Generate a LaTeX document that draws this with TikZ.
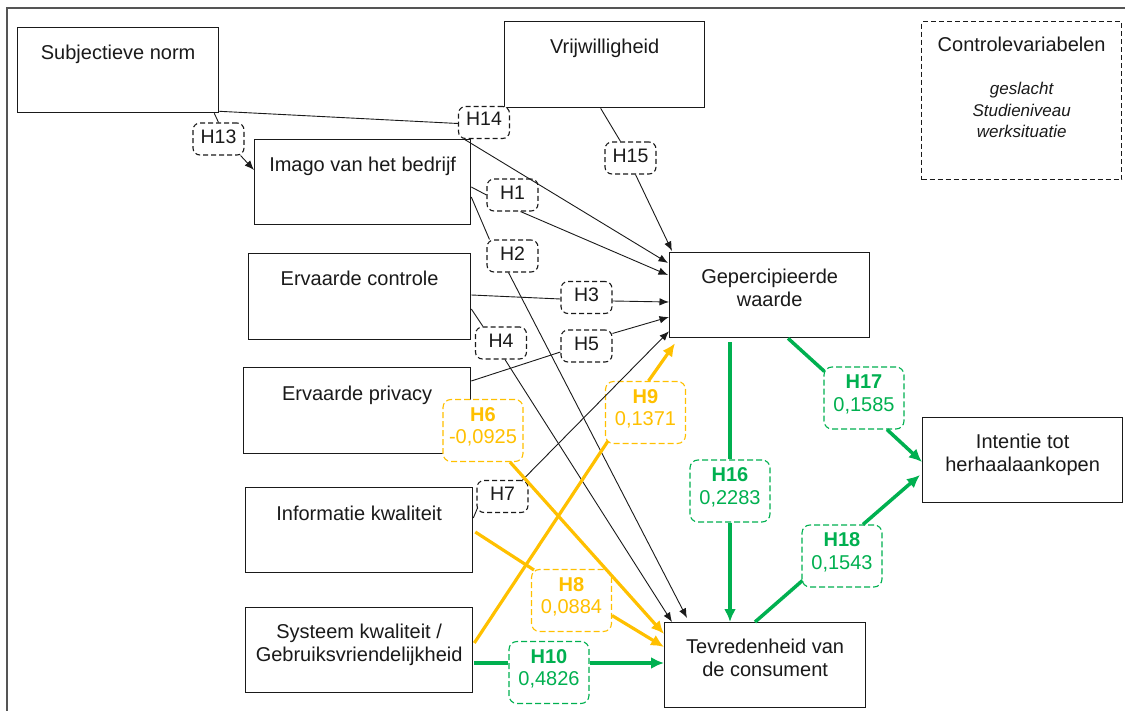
\documentclass[tikz,border=0pt]{standalone}
\usepackage{fontspec}
\setmainfont{Liberation Sans}
\usetikzlibrary{calc,arrows.meta}
\definecolor{hyel}{HTML}{FFC000}
\definecolor{hgrn}{HTML}{00B050}
\definecolor{ink}{HTML}{1A1A1A}
\definecolor{framegray}{HTML}{555555}
\begin{document}
\begin{tikzpicture}[x=1pt,y=-1pt,
  construct/.style={draw=ink, line width=1.3pt, fill=white, rectangle, inner sep=0pt, anchor=north west},
  ctext/.style={inner sep=0pt, text=ink, font=\fontsize{20}{23}\selectfont, align=center},
  hyp/.style={draw=ink, line width=1.1pt, dash pattern=on 5pt off 3pt, rounded corners=7pt, fill=white,
              minimum width=51pt, minimum height=32pt, inner sep=0pt},
  hyptext/.style={inner sep=0pt, text=ink, font=\fontsize{19.5}{22}\selectfont},
  hypc/.style={line width=1.1pt, dash pattern=on 6pt off 3pt, rounded corners=8pt, fill=white,
               minimum width=80pt, minimum height=62pt, inner sep=0pt},
  hy/.style={hypc, draw=hyel},
  hg/.style={hypc, draw=hgrn},
  hctext/.style={inner sep=0pt, align=center, font=\fontsize{20}{22.5}\selectfont},
  hyt/.style={hctext, text=hyel},
  hgt/.style={hctext, text=hgrn},
  lnk/.style={draw=ink, line width=0.9pt},
  lnka/.style={lnk, -{Latex[length=9.5pt,width=7.5pt]}},
  yl/.style={draw=hyel, line width=3.2pt},
  yla/.style={yl, -{Latex[length=13pt,width=12pt]}},
  gl/.style={draw=hgrn, line width=3.5pt},
  gla/.style={gl, -{Latex[length=13pt,width=12pt]}}
]
\useasboundingbox (0,0) rectangle (1125,711);

% outer frame (top and left edges)
\draw[framegray, line width=1.6pt] (7,711) -- (7,8) -- (1125,8);

% constructs
\node[construct, minimum width=201pt, minimum height=85pt] (sn) at (17,27) {};
\node[ctext, anchor=base] (snt) at ($(sn.north)+(0,33)$) {Subjectieve norm};

\node[construct, minimum width=200pt, minimum height=86pt] (vw) at (504,21) {};
\node[ctext, anchor=base] (vwt) at ($(vw.north)+(0,33)$) {Vrijwilligheid};

\node[construct, minimum width=216pt, minimum height=85pt] (im) at (254,139) {};
\node[ctext, anchor=base] (imt) at ($(im.north)+(0,33)$) {Imago van het bedrijf};

\node[construct, minimum width=222pt, minimum height=86pt] (ec) at (248,253) {};
\node[ctext, anchor=base] (ect) at ($(ec.north)+(0,33)$) {Ervaarde controle};

\node[construct, minimum width=227pt, minimum height=86pt] (ep) at (243,367) {};
\node[ctext, anchor=base] (ept) at ($(ep.north)+(0,33)$) {Ervaarde privacy};

\node[construct, minimum width=227pt, minimum height=85pt] (ik) at (245,487) {};
\node[ctext, anchor=base] (ikt) at ($(ik.north)+(0,33)$) {Informatie kwaliteit};

\node[construct, minimum width=227pt, minimum height=85pt] (sk) at (245,607) {};
\node[ctext, anchor=north] (skt) at ($(sk.north)+(0,16.6)$) {Systeem kwaliteit /\\Gebruiksvriendelijkheid};

\node[construct, minimum width=200pt, minimum height=85pt] (gw) at (669,252) {};
\node[ctext, anchor=north] (gwt) at ($(gw.north)+(0,16.6)$) {Gepercipieerde\\waarde};

\node[construct, minimum width=200pt, minimum height=85pt] (it) at (922,417) {};
\node[ctext, anchor=north] (itt) at ($(it.north)+(0,16.6)$) {Intentie tot\\herhaalaankopen};

\node[construct, minimum width=201pt, minimum height=85pt] (tv) at (664,622) {};
\node[ctext, anchor=north] (tvt) at ($(tv.north)+(0,16.6)$) {Tevredenheid van\\de consument};

% control variables
\node[construct, dash pattern=on 5pt off 3pt, minimum width=200pt, minimum height=158pt] (cv) at (921,21) {};
\node[ctext, anchor=base] (cvt) at ($(cv.north)+(0,31)$) {Controlevariabelen};
\node[inner sep=0pt, anchor=north, align=center, text=ink, font=\fontsize{17}{21.5}\selectfont\itshape]
  (cvl) at ($(cv.north)+(0,61)$) {geslacht\\Studieniveau\\werksituatie};

% hypothesis labels (box, then text set slightly above centre)
\node[hyp] (h13) at (218.5,139) {};   \node[hyptext] (h13t) at ($(h13.center)+(0,-2.5)$) {H13};
\node[hyp] (h14) at (484,122.5) {};   \node[hyptext] (h14t) at ($(h14.center)+(0,-3.5)$) {H14};
\node[hyp] (h15) at (630.5,158) {};   \node[hyptext] (h15t) at ($(h15.center)+(0,-2.5)$) {H15};
\node[hyp] (h1) at (512.5,195) {};    \node[hyptext] (h1t) at ($(h1.center)+(0,-2.5)$) {H1};
\node[hyp] (h2) at (512.5,256) {};    \node[hyptext] (h2t) at ($(h2.center)+(0,-2.5)$) {H2};
\node[hyp] (h3) at (586.5,297.5) {};  \node[hyptext] (h3t) at ($(h3.center)+(0,-2.5)$) {H3};
\node[hyp] (h4) at (501,343) {};      \node[hyptext] (h4t) at ($(h4.center)+(0,-2.5)$) {H4};
\node[hyp] (h5) at (586.5,346) {};    \node[hyptext] (h5t) at ($(h5.center)+(0,-2.5)$) {H5};
\node[hyp] (h7) at (502.5,496.5) {};  \node[hyptext] (h7t) at ($(h7.center)+(0,-2.5)$) {H7};

\node[hy] (h6) at (483,430.5) {};   \node[hyt] (h6t) at ($(h6.center)+(0,-3.5)$) {\textbf{H6}\\-0,0925};
\node[hy] (h9) at (645.5,412.5) {}; \node[hyt] (h9t) at ($(h9.center)+(0,-3.5)$) {\textbf{H9}\\0,1371};
\node[hy] (h8) at (571.5,600.5) {}; \node[hyt] (h8t) at ($(h8.center)+(0,-3.5)$) {\textbf{H8}\\0,0884};
\node[hg] (h10) at (549,672.5) {};  \node[hgt] (h10t) at ($(h10.center)+(0,-3.5)$) {\textbf{H10}\\0,4826};
\node[hg] (h16) at (730,491) {};    \node[hgt] (h16t) at ($(h16.center)+(0,-3.5)$) {\textbf{H16}\\0,2283};
\node[hg] (h17) at (864,398) {};    \node[hgt] (h17t) at ($(h17.center)+(0,-3.5)$) {\textbf{H17}\\0,1585};
\node[hg] (h18) at (842,556) {};    \node[hgt] (h18t) at ($(h18.center)+(0,-3.5)$) {\textbf{H18}\\0,1543};

% thin paths
\draw[lnk] ($(sn.south east)+(-5,0)$) -- (h13.north);
\draw[lnka] ($(h13.south east)+(-4,0)$) -- ($(im.north west)+(0,31)$);
\draw[lnk] ($(sn.south east)+(0,-2)$) -- ($(h14.west)+(0,1)$);
\draw[lnka] ($(h14.south west)+(6,0)$) -- ($(gw.north west)+(-1,11)$);
\draw[lnk] ($(vw.south)+(-4,0)$) -- ($(h15.north)+(-10,0)$);
\draw[lnka] ($(h15.south)+(5,0)$) -- ($(gw.north west)+(3,-1)$);
\draw[lnk] ($(im.north east)+(0,48)$) -- (h1.west);
\draw[lnka] ($(h1.south)+(8,0)$) -- ($(gw.north west)+(-1,23)$);
\draw[lnk] ($(im.north east)+(0,58)$) -- ($(h2.north west)+(3,0)$);
\draw[lnka] ($(h2.south)+(-4,0)$) -- ($(tv.north west)+(23,-4)$);
\draw[lnk] ($(ec.north east)+(0,42)$) -- ($(h3.west)+(0,1.5)$);
\draw[lnka] ($(h3.east)+(0,3.5)$) -- ($(gw.north west)+(0,50)$);
\draw[lnk] ($(ec.north east)+(0,56)$) -- ($(h4.north west)+(8,0)$);
\draw[lnka] ($(h4.south)+(4,0)$) -- ($(tv.north west)+(8,0)$);
\draw[lnk] ($(ep.north east)+(0,14)$) -- ($(h5.west)+(0,6)$);
\draw[lnka] ($(h5.north east)+(0,4)$) -- ($(gw.north west)+(0,65)$);
\draw[lnk] ($(ik.north east)+(0,31)$) -- ($(h7.south west)+(1,-5)$);
\draw[lnka] ($(h7.north east)+(-6,0)$) -- ($(gw.south west)+(0,-7)$);

% yellow paths
\draw[yla] ($(h6.south)+(27,0)$) -- ($(tv.north west)+(0,12)$);
\draw[yl] ($(ik.north east)+(2,45)$) -- ($(h8.north west)+(3,1)$);
\draw[yla] ($(h8.east)+(0,15)$) -- ($(tv.north west)+(0,25)$);
\draw[yl] ($(sk.north east)+(1,36)$) -- ($(h9.south west)+(3,-3)$);
\draw[yla] ($(h9.north)+(3,0)$) -- ($(gw.south west)+(6,5)$);

% green paths
\draw[gl] ($(sk.north east)+(1,56)$) -- ($(h10.west)+(0,-9.5)$);
\draw[gla] ($(h10.east)+(0,-9.5)$) -- ($(tv.north west)+(0,41)$);
\draw[gl] ($(gw.south west)+(61,4)$) -- (h16.north);
\draw[gla] (h16.south) -- ($(tv.north west)+(66,0)$);
\draw[gl] ($(gw.south west)+(119,0)$) -- ($(h17.north west)+(1,5)$);
\draw[gla] ($(h17.south)+(23,0)$) -- ($(it.north west)+(0,45)$);
\draw[gl] ($(tv.north west)+(91,0)$) -- ($(h18.south west)+(1,-7)$);
\draw[gla] ($(h18.north)+(21,0)$) -- ($(it.north west)+(-2,58)$);
\end{tikzpicture}
\end{document}
